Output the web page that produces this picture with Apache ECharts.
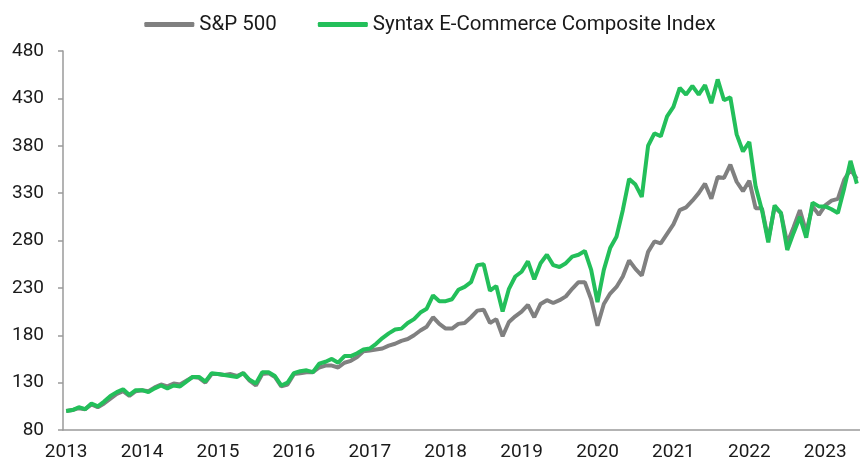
<!DOCTYPE html>
<html>
<head>
<meta charset="utf-8">
<script src="https://cdn.jsdelivr.net/npm/echarts@6/dist/echarts.min.js"></script>
<style>
  html, body { margin: 0; padding: 0; background: #fff; }
  #chart { width: 860px; height: 463px; }
</style>
</head>
<body>
<div id="chart"></div>
<script>
// monthly index levels, Jan 2013 = 100
const startYear = 2013
const seriesNames = ['S&P 500', 'Syntax E-Commerce Composite Index']

const sp500 = [
  100, 101, 103, 102, 107, 104, 108, 113, 118, 121, 116, 121,
  122, 121, 125, 128, 126, 129, 128, 132, 136, 135, 130, 139,
  139, 138, 139, 137, 140, 132, 127, 139, 140, 136, 126, 128,
  139, 140, 141, 141, 146, 148, 148, 146, 151, 153, 157, 163,
  164, 165, 166, 169, 171, 174, 176, 180, 185, 189, 199, 192,
  187, 187, 192, 193, 199, 206, 207, 193, 197, 179, 194, 200,
  205, 212, 199, 213, 217, 214, 217, 221, 229, 236, 236, 218,
  190, 213, 224, 231, 242, 259, 250, 243, 268, 279, 277, 287,
  297, 312, 315, 322, 330, 340, 324, 347, 346, 360, 342, 332,
  343, 314, 314, 281, 315, 309, 277, 294, 312, 289, 316, 307,
  317, 322, 324, 344, 355, 345
]

const syntaxEcom = [
  100, 101, 104, 102, 108, 105, 110, 116, 120, 123, 117, 122,
  122, 120, 124, 127, 124, 127, 126, 131, 136, 136, 131, 140,
  139, 138, 137, 136, 140, 133, 129, 141, 141, 137, 127, 130,
  140, 142, 143, 141, 150, 152, 155, 151, 158, 158, 161, 165,
  166, 171, 177, 182, 186, 187, 193, 197, 204, 208, 222, 216,
  216, 218, 228, 231, 236, 254, 255, 227, 232, 205, 229, 242,
  247, 258, 239, 256, 265, 254, 252, 256, 263, 265, 269, 249,
  215, 249, 272, 284, 312, 345, 339, 326, 380, 393, 390, 411,
  421, 441, 434, 443, 434, 444, 425, 450, 428, 431, 392, 374,
  384, 337, 312, 278, 317, 309, 270, 288, 305, 283, 320, 316,
  316, 313, 309, 335, 364, 340
]

const months = []
for (let i = 0; i < sp500.length; ++i) {
  const y = startYear + Math.floor(i / 12)
  const m = (i % 12) + 1
  months.push(y + '-' + (m < 10 ? '0' + m : m))
}

const chart = echarts.init(document.getElementById('chart'))
const axisColor = '#9a9a9a'
const textColor = '#1a1a1a'

chart.setOption({
  animation: false,
  textStyle: { fontFamily: 'Roboto' },
  legend: {
    top: 9,
    left: 'center',
    itemWidth: 50,
    itemHeight: 5,
    itemGap: 41,
    icon: 'roundRect',
    textStyle: { fontSize: 20.5, color: textColor },
    data: seriesNames
  },
  grid: {
    left: 63,
    right: -4,
    top: 51,
    bottom: 33
  },
  xAxis: {
    type: 'category',
    data: months,
    boundaryGap: true,
    axisLine: { lineStyle: { color: axisColor, width: 1.5 } },
    axisTick: {
      length: 6,
      interval: (idx) => idx % 12 === 0,
      lineStyle: { color: axisColor, width: 1.5 }
    },
    axisLabel: {
      interval: (idx) => idx % 12 === 0,
      formatter: (v) => v.slice(0, 4),
      fontSize: 19,
      color: textColor,
      margin: 13
    },
    splitLine: { show: false }
  },
  yAxis: {
    type: 'value',
    min: 80,
    max: 480,
    interval: 50,
    axisLine: { show: true, lineStyle: { color: axisColor, width: 1.5 } },
    axisTick: { show: true, length: 5, lineStyle: { color: axisColor, width: 1.5 } },
    axisLabel: { fontSize: 19, color: textColor, margin: 19 },
    splitLine: { show: false }
  },
  series: [
    {
      name: seriesNames[0],
      type: 'line',
      data: sp500,
      showSymbol: false,
      symbol: 'none',
      itemStyle: { color: '#808080' },
      lineStyle: { color: '#808080', width: 4 }
    },
    {
      name: seriesNames[1],
      type: 'line',
      data: syntaxEcom,
      showSymbol: false,
      symbol: 'none',
      itemStyle: { color: '#23bf5a' },
      lineStyle: { color: '#23bf5a', width: 4 }
    }
  ]
})
</script>
</body>
</html>
